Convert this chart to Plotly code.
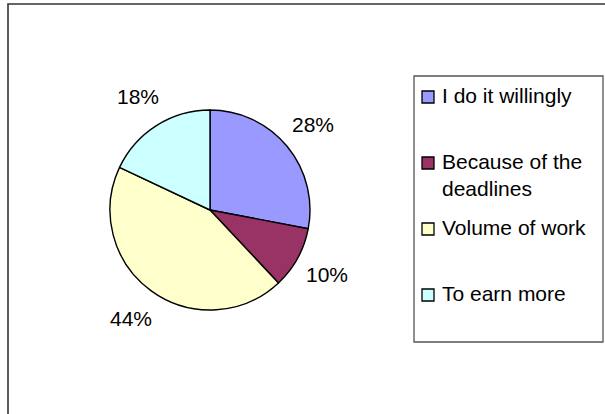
import math
import plotly.graph_objects as go

# Survey answers: why people work overtime
categories = ["I do it willingly", "Because of the deadlines", "Volume of work", "To earn more"]
legend_labels = ["I do it willingly", "Because of the<br>deadlines", "Volume of work", "To earn more"]
shares = [28, 10, 44, 18]
colors = ["#9999FF", "#993366", "#FFFFCC", "#CCFFFF"]

W, H = 605, 414
FONT = "Liberation Sans, Arial, sans-serif"
FS = 21

# pie geometry in pixels
cx, cy, r = 210, 210, 100
label_r = 1.34 * r

fig = go.Figure(
    go.Pie(
        labels=categories,
        values=shares,
        sort=False,
        direction="clockwise",
        rotation=0,
        textinfo="none",
        hoverinfo="label+percent",
        marker=dict(colors=colors, line=dict(color="#000000", width=1.4)),
        domain=dict(x=[(cx - r) / W, (cx + r) / W], y=[(H - cy - r) / H, (H - cy + r) / H]),
        showlegend=False,
    )
)

annotations = []
shapes = []

# percentage labels placed around the pie at each slice's mid-angle
total = sum(shares)
cum = 0
for v in shares:
    theta = 2 * math.pi * (cum + v / 2) / total
    cum += v
    px = cx + label_r * math.sin(theta)
    py = cy - label_r * math.cos(theta)
    annotations.append(dict(
        x=px / W, y=1 - py / H, xref="paper", yref="paper",
        text=f"{round(100 * v / total)}%", showarrow=False,
        xanchor="center", yanchor="middle",
        font=dict(family=FONT, size=FS, color="#000000"),
    ))

# outer chart border
shapes.append(dict(type="rect", xref="paper", yref="paper",
                   x0=8 / W, x1=1.05, y0=-0.05, y1=1 - 4 / H,
                   line=dict(color="#333333", width=1.6), fillcolor="rgba(0,0,0,0)"))

# legend box
lx0, lx1, ly0, ly1 = 414, 603, 76, 342
shapes.append(dict(type="rect", xref="paper", yref="paper",
                   x0=lx0 / W, x1=lx1 / W, y0=1 - ly1 / H, y1=1 - ly0 / H,
                   line=dict(color="#555555", width=1.3), fillcolor="#FFFFFF"))

# legend entries
row0, step, sw = 97, 66, 12
for i, (lab, col) in enumerate(zip(legend_labels, colors)):
    yc = row0 + step * i
    shapes.append(dict(type="rect", xref="paper", yref="paper",
                       x0=422 / W, x1=(422 + sw) / W,
                       y0=1 - (yc + sw / 2) / H, y1=1 - (yc - sw / 2) / H,
                       line=dict(color="#000000", width=1.3), fillcolor=col))
    annotations.append(dict(
        x=440 / W, y=1 - (yc - 15) / H, xref="paper", yref="paper",
        text=lab, showarrow=False, align="left",
        xanchor="left", yanchor="top",
        font=dict(family=FONT, size=FS, color="#000000"),
    ))

fig.update_layout(
    width=W, height=H,
    margin=dict(l=0, r=0, t=0, b=0),
    paper_bgcolor="#FFFFFF",
    plot_bgcolor="#FFFFFF",
    shapes=shapes,
    annotations=annotations,
)

fig.write_html("out.html")
